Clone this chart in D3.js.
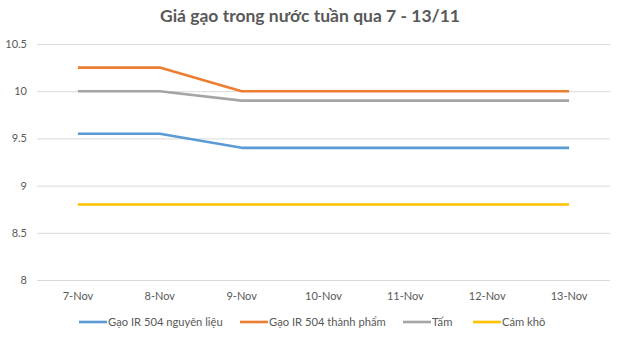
<!DOCTYPE html>
<html><head><meta charset="utf-8">
<script src="https://cdn.jsdelivr.net/npm/d3@7"></script>
<style>body{margin:0;background:#fff;} svg{display:block;font-family:Lato,"Open Sans",sans-serif;}</style>
</head><body>
<svg id="c" width="625" height="343"></svg>
<script>
const categories = ["7-Nov","8-Nov","9-Nov","10-Nov","11-Nov","12-Nov","13-Nov"];
const seriesNames = ["Gạo IR 504 nguyên liệu","Gạo IR 504 thành phẩm","Tấm","Cám khô"];
const nguyenLieu = [9.55,9.55,9.4,9.4,9.4,9.4,9.4];
const thanhPham = [10.25,10.25,10,10,10,10,10];
const tam = [10,10,9.9,9.9,9.9,9.9,9.9];
const camKho = [8.8,8.8,8.8,8.8,8.8,8.8,8.8];
const yTicks = [8,8.5,9,9.5,10,10.5];
const colors = ["#5B9BD5","#ED7D31","#A5A5A5","#FFC000"];
const series = [nguyenLieu,thanhPham,tam,camKho];

const svg = d3.select("#c");
const m = {l:37,r:15,t:44,b:63};
const W=625,H=343;
const x = d3.scaleBand().domain(categories).range([m.l,W-m.r]);
const y = d3.scaleLinear().domain([8,10.5]).range([H-m.b,m.t]);

svg.append("text").attr("x",310).attr("y",22).attr("text-anchor","middle")
  .attr("font-size",17.5).attr("font-weight","bold").attr("fill","#595959")
  .text("Giá gạo trong nước tuần qua 7 - 13/11");

const ya = svg.append("g").attr("transform",`translate(${m.l},0)`)
  .call(d3.axisLeft(y).tickValues(yTicks).tickSize(-(W-m.l-m.r)).tickPadding(10).tickFormat(d=>String(d)));
ya.select(".domain").remove();
ya.selectAll("line").attr("stroke","#d9d9d9");
ya.selectAll("text").attr("fill","#595959").attr("font-size",11).attr("font-family","Lato,sans-serif");

const xa = svg.append("g").attr("transform",`translate(0,${H-m.b})`)
  .call(d3.axisBottom(x).tickSize(0).tickPadding(12));
xa.select(".domain").remove();
xa.selectAll("text").attr("fill","#595959").attr("font-size",11).attr("font-family","Lato,sans-serif");

const line = d3.line().x((d,i)=>x(categories[i])+x.bandwidth()/2).y(d=>y(d));
series.forEach((s,i)=>{
  svg.append("path").datum(s).attr("d",line).attr("fill","none")
    .attr("stroke",colors[i]).attr("stroke-width",2.6).attr("stroke-linejoin","round");
});

const legX = [79,240,403,473];
const lg = svg.append("g");
seriesNames.forEach((n,i)=>{
  lg.append("line").attr("x1",legX[i]).attr("x2",legX[i]+28).attr("y1",322).attr("y2",322)
    .attr("stroke",colors[i]).attr("stroke-width",2.6);
  lg.append("text").attr("x",legX[i]+29).attr("y",326).attr("font-size",11.2).attr("fill","#595959").text(n);
});
</script>
</body></html>
